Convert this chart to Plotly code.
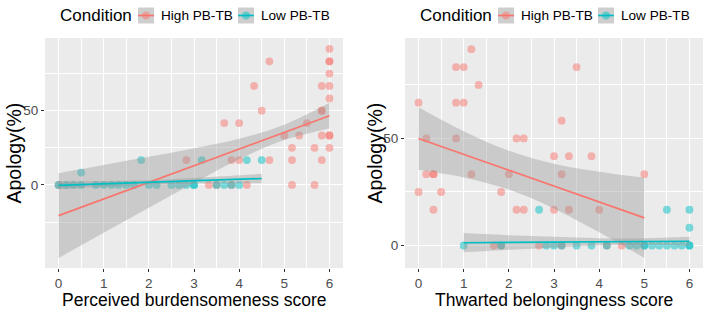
import plotly.graph_objects as go

# ---------------- data ----------------
# Left panel: Perceived burdensomeness
pb_high_x = [6, 6, 6, 4.67, 6, 4.33, 5.83, 6, 6, 4.5, 5.83, 5.83, 3.67, 4.0, 5.5,
             5.0, 5.33, 5.83, 6, 6, 5.17, 5.67, 6, 2.83, 3.83, 4.0, 4.67, 5.17, 5.83,
             0, 3.33, 3.5, 3.83, 4.17, 5.17, 5.67]
pb_high_y = [91.7, 83.3, 83.3, 83.3, 75, 66.7, 66.7, 66.7, 58.3, 50, 50, 50, 41.7, 41.7, 41.7,
             33.3, 33.3, 33.3, 33.3, 33.3, 25, 25, 25, 16.7, 16.7, 16.7, 16.7, 16.7, 16.7,
             0, 0, 0, 0, 0, 0, 0]
pb_low_x = [0.5, 1.83, 3.17, 4.17, 4.5,
            0, 0.17, 0.33, 0.5, 0.83, 1.0, 1.17, 1.33, 1.5, 1.67, 2.0, 2.17, 2.5, 2.67,
            2.83, 3.0, 3.0, 3.5, 3.67, 3.83, 4.0]
pb_low_y = [8.3, 16.7, 16.7, 16.7, 16.7,
            0, 0, 0, 0, 0, 0, 0, 0, 0, 0, 0, 0, 0, 0, 0, 0, 0, 0, 0, 0, 0]

# smooth fits (line + 95% band)
pb_high_fx = [0, 1, 2, 3, 4, 5, 6]
pb_high_fit = [-20.7, -9.5, 1.7, 13.0, 24.2, 35.4, 46.6]
pb_high_lo = [-49.3, -32.3, -15.4, 1.3, 17.3, 30.2, 38.0]
pb_high_hi = [7.9, 13.4, 18.9, 24.7, 31.1, 40.6, 55.3]
pb_low_fx = [0, 1, 2, 3, 4, 4.5]
pb_low_fit = [-0.3, 0.7, 1.7, 2.8, 3.8, 4.3]
pb_low_lo = [-3.0, -1.2, 0.2, 0.9, 1.1, 1.1]
pb_low_hi = [2.4, 2.6, 3.2, 4.7, 6.5, 7.5]

# Right panel: Thwarted belongingness
tb_high_x = [0, 0.17, 0, 0.17, 0.33, 0.33, 0.5, 0.33, 0.83, 1.0, 1.17, 0.83, 1.0, 1.33,
             0.83, 1.17, 1.83, 2.0, 2.17, 2.33, 2.17, 2.33, 3.0, 3.17, 3.17, 3.33, 3.5,
             3.83, 3.0, 3.33, 4.0, 5.0, 1.67, 1.83, 2.67, 3.17, 4.17, 4.5]
tb_high_y = [66.7, 50, 25, 33.3, 33.3, 33.3, 25, 16.7, 83.3, 83.3, 91.7, 66.7, 66.7, 75,
             50, 33.3, 25, 33.3, 50, 50, 16.7, 16.7, 41.7, 58.3, 33.3, 41.7, 83.3,
             41.7, 16.7, 16.7, 16.7, 33.3, 0, 0, 0, 0, 0, 0]
tb_low_x = [2.67, 5.5, 6, 6,
            1.0, 1.83, 2.83, 3.0, 3.17, 3.5, 3.83, 4.17, 4.67, 4.83, 5.0, 5.0, 5.17,
            5.33, 5.5, 5.67, 5.83, 6.0, 6.0]
tb_low_y = [16.7, 16.7, 16.7, 8.3,
            0, 0, 0, 0, 0, 0, 0, 0, 0, 0, 0, 0, 0, 0, 0, 0, 0, 0, 0]

tb_high_fx = [0, 1, 2, 3, 4, 5]
tb_high_fit = [50.0, 42.6, 35.2, 27.7, 20.3, 12.9]
tb_high_lo = [35.4, 31.8, 26.1, 17.2, 6.2, -5.8]
tb_high_hi = [64.6, 53.4, 44.3, 38.2, 34.4, 31.6]
tb_low_fx = [1, 2, 3, 4, 5, 6]
tb_low_fit = [1.3, 1.4, 1.6, 1.7, 1.9, 2.0]
tb_low_lo = [-3.2, -2.0, -0.9, 0.0, 0.4, -0.1]
tb_low_hi = [5.8, 4.8, 4.1, 3.4, 3.4, 4.1]

group_names = ["High PB-TB", "Low PB-TB"]
x_titles = ["Perceived burdensomeness score", "Thwarted belongingness score"]
y_title = "Apology(%)"
legend_title = "Condition"

# ---------------- styling ----------------
RED = "#F8766D"
TEAL = "#00BFC4"
PT_RED = "rgba(248,118,109,0.5)"
PT_TEAL = "rgba(0,191,196,0.5)"
BAND = "rgba(153,153,153,0.4)"
FONT = "Liberation Sans, Arial, sans-serif"
W, H = 709, 313

fig = go.Figure()


def add_panel(xa, ya, hx, hy, lx, ly, fits):
    for xs, ys, c in [(hx, hy, PT_RED), (lx, ly, PT_TEAL)]:
        fig.add_trace(go.Scatter(x=xs, y=ys, mode="markers", xaxis=xa, yaxis=ya,
                                 marker=dict(size=7.8, color=c, line=dict(width=0)),
                                 showlegend=False, hoverinfo="skip"))
    for (fx, fit, lo, hi), col in zip(fits, [RED, TEAL]):
        fig.add_trace(go.Scatter(x=fx, y=lo, mode="lines", xaxis=xa, yaxis=ya,
                                 line=dict(width=0, shape="spline", smoothing=1.0),
                                 showlegend=False, hoverinfo="skip"))
        fig.add_trace(go.Scatter(x=fx, y=hi, mode="lines", xaxis=xa, yaxis=ya,
                                 line=dict(width=0, shape="spline", smoothing=1.0),
                                 fill="tonexty", fillcolor=BAND,
                                 showlegend=False, hoverinfo="skip"))
        fig.add_trace(go.Scatter(x=fx, y=fit, mode="lines", xaxis=xa, yaxis=ya,
                                 line=dict(width=1.7, color=col),
                                 showlegend=False, hoverinfo="skip"))


add_panel("x", "y", pb_high_x, pb_high_y, pb_low_x, pb_low_y,
          [(pb_high_fx, pb_high_fit, pb_high_lo, pb_high_hi),
           (pb_low_fx, pb_low_fit, pb_low_lo, pb_low_hi)])
add_panel("x2", "y2", tb_high_x, tb_high_y, tb_low_x, tb_low_y,
          [(tb_high_fx, tb_high_fit, tb_high_lo, tb_high_hi),
           (tb_low_fx, tb_low_fit, tb_low_lo, tb_low_hi)])

L1, R1 = 45 / W, 343 / W
L2, R2 = 405 / W, 703 / W
B, T = (H - 268) / H, (H - 38) / H

xcommon = dict(range=[-0.3, 6.3], tickmode="linear", tick0=0, dtick=1,
               showgrid=True, gridcolor="white", gridwidth=1.1, zeroline=False,
               ticks="outside", ticklen=3, tickcolor="#333333", tickwidth=1,
               tickfont=dict(family=FONT, size=13.5, color="#4D4D4D"),
               minor=dict(tickmode="linear", tick0=0.5, dtick=1, showgrid=True,
                          gridcolor="white", gridwidth=0.55, ticks=""),
               showline=False, fixedrange=True)


def ycommon(rng, minor_vals):
    return dict(range=rng, tickmode="array", tickvals=[0, 50], ticktext=["0", "50"],
                showgrid=True, gridcolor="white", gridwidth=1.1, zeroline=False,
                ticks="outside", ticklen=3, tickcolor="#333333", tickwidth=1,
                tickfont=dict(family=FONT, size=13.5, color="#4D4D4D"),
                minor=dict(tickmode="array", tickvals=minor_vals, showgrid=True,
                           gridcolor="white", gridwidth=0.55, ticks=""),
                showline=False, fixedrange=True)


fig.update_layout(
    width=W, height=H,
    margin=dict(l=0, r=0, t=0, b=0),
    paper_bgcolor="white",
    plot_bgcolor="#EBEBEB",
    font=dict(family=FONT, color="black"),
    xaxis=dict(domain=[L1, R1], anchor="y", **xcommon),
    yaxis=dict(domain=[B, T], anchor="x", **ycommon([-56, 99], [-25, 25, 75])),
    xaxis2=dict(domain=[L2, R2], anchor="y2", **xcommon),
    yaxis2=dict(domain=[B, T], anchor="x2", **ycommon([-10.5, 96.9], [25, 75])),
    showlegend=False,
)

# axis titles as annotations placed like the reference
for cx, txt in [((L1 + R1) / 2, x_titles[0]), ((L2 + R2) / 2, x_titles[1])]:
    fig.add_annotation(x=cx, y=(H - 300) / H, xref="paper", yref="paper",
                       text=txt, showarrow=False, xanchor="center", yanchor="middle",
                       font=dict(size=17.5, family=FONT, color="black"))
for px in [13.5, 374.5]:
    fig.add_annotation(x=px / W, y=(B + T) / 2, xref="paper", yref="paper",
                       text=y_title, showarrow=False, textangle=-90,
                       xanchor="center", yanchor="middle",
                       font=dict(size=19.5, family=FONT, color="black"))


# legend drawn above each panel (ggplot-style: grey key boxes with line + point)
def px_x(v):
    return v / W


def px_y(v):
    return 1 - v / H


KEY_BG = "#CECECE"
for x0 in [59, 419]:
    cy = 15.5
    fig.add_annotation(x=px_x(x0 - 1), y=px_y(cy), xref="paper", yref="paper",
                       text=legend_title, showarrow=False, xanchor="left",
                       yanchor="middle", font=dict(size=17, family=FONT, color="black"))
    for k, (name, col, pt) in enumerate(zip(group_names, [RED, TEAL], [PT_RED, PT_TEAL])):
        kx = x0 + 79 + 100 * k
        fig.add_shape(type="rect", xref="paper", yref="paper",
                      x0=px_x(kx), x1=px_x(kx + 16), y0=px_y(cy + 8), y1=px_y(cy - 8),
                      fillcolor=KEY_BG, line=dict(width=0))
        fig.add_shape(type="line", xref="paper", yref="paper",
                      x0=px_x(kx), x1=px_x(kx + 16), y0=px_y(cy), y1=px_y(cy),
                      line=dict(color=col, width=1.7))
        fig.add_shape(type="circle", xref="paper", yref="paper",
                      x0=px_x(kx + 8 - 3.9), x1=px_x(kx + 8 + 3.9),
                      y0=px_y(cy + 3.9), y1=px_y(cy - 3.9),
                      fillcolor=pt, line=dict(width=0))
        fig.add_annotation(x=px_x(kx + 21), y=px_y(cy), xref="paper", yref="paper",
                           text=name, showarrow=False, xanchor="left", yanchor="middle",
                           font=dict(size=13.6, family=FONT, color="black"))

fig.write_html("out.html")
